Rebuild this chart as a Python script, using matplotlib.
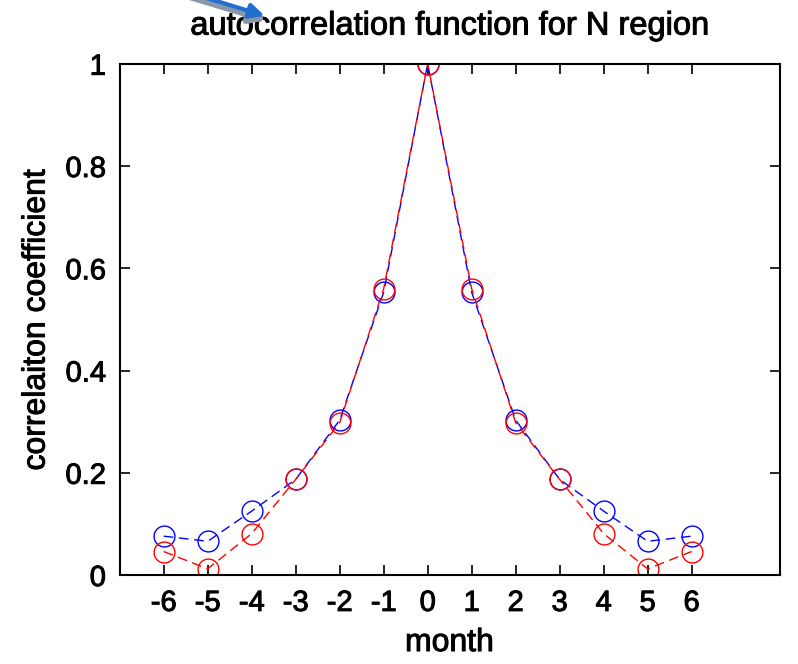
import numpy as np
import matplotlib
matplotlib.use('Agg')
import matplotlib.pyplot as plt
import matplotlib.patheffects as pe

months = [-6, -5, -4, -3, -2, -1, 0, 1, 2, 3, 4, 5, 6]
blue_vals = [0.076, 0.066, 0.125, 0.187, 0.303, 0.553, 1.0, 0.553, 0.303, 0.187, 0.125, 0.066, 0.076]
red_vals = [0.046, 0.012, 0.081, 0.187, 0.298, 0.560, 1.0, 0.560, 0.298, 0.187, 0.081, 0.012, 0.046]

plt.rcParams['font.family'] = ['Liberation Sans', 'DejaVu Sans']
plt.rcParams['axes.unicode_minus'] = False
thick = [pe.withStroke(linewidth=0.7, foreground='black')]

fig = plt.figure(figsize=(7.98, 6.64), dpi=100)
ax = fig.add_axes([0.150, 0.134, 0.827, 0.770])

ax.plot(months, blue_vals, color='blue', linestyle='--', dashes=(7, 4), linewidth=1,
        marker='o', markersize=15, markerfacecolor='none', markeredgecolor='blue', markeredgewidth=1)
ax.plot(months, red_vals, color='red', linestyle='--', dashes=(7, 4), linewidth=1,
        marker='o', markersize=15, markerfacecolor='none', markeredgecolor='red', markeredgewidth=1)

ax.set_xlim(-7, 8)
ax.set_ylim(0, 1)
ax.set_xticks(months)
ax.set_yticks([0, 0.2, 0.4, 0.6, 0.8, 1])
ax.set_yticklabels(['0', '0.2', '0.4', '0.6', '0.8', '1'])
ax.tick_params(direction='in', top=True, right=True, length=7, width=1.2, labelsize=21, pad=10)
for lab in ax.get_xticklabels() + ax.get_yticklabels():
    lab.set_path_effects(thick)
for s in ax.spines.values():
    s.set_linewidth(1.5)

ax.set_xlabel('month', fontsize=23, labelpad=8, path_effects=thick)
ax.set_ylabel('correlaiton coefficient', fontsize=23, labelpad=10, path_effects=thick)
ax.set_title('autocorrelation function for N region', fontsize=23.5, pad=21, path_effects=thick)

# stray arrow from the original slide
fig.patches.append(matplotlib.patches.FancyArrowPatch(
    (0.235, 1.005), (0.337, 0.968), transform=fig.transFigure,
    arrowstyle='-|>', mutation_scale=24, color='#8a97a8', linewidth=4, clip_on=False))
fig.patches.append(matplotlib.patches.FancyArrowPatch(
    (0.24, 1.01), (0.335, 0.975), transform=fig.transFigure,
    arrowstyle='-|>', mutation_scale=22, color='#1f6fd0', linewidth=3, clip_on=False))

fig.savefig('out.png', dpi=100)
